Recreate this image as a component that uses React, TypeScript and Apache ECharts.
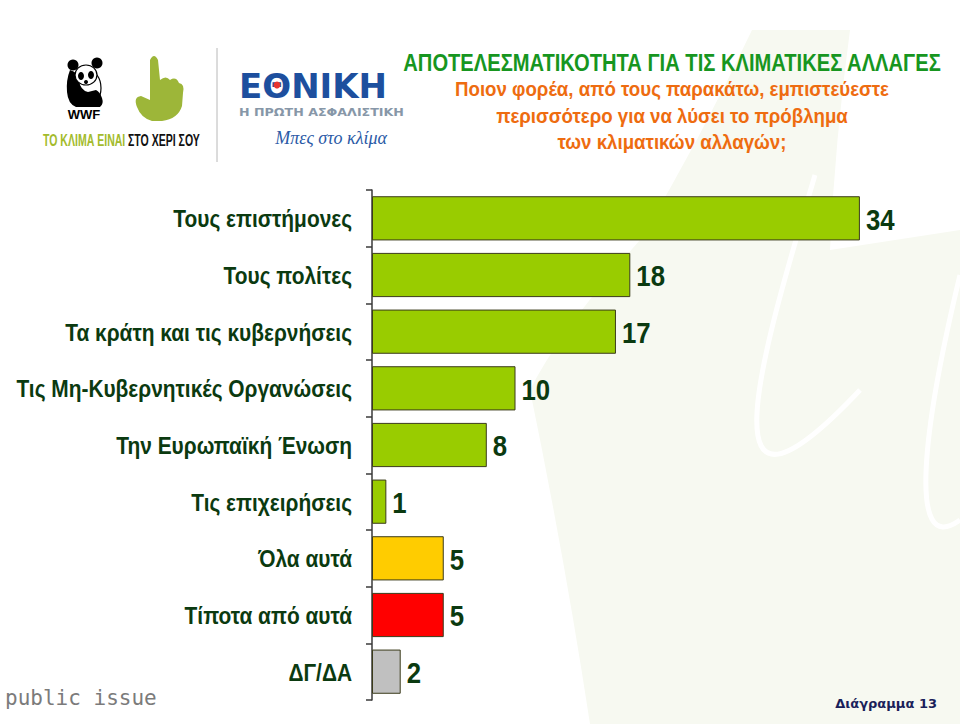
import React, { useEffect, useRef } from "react";
import * as echarts from "echarts";

const categories = [
  "Τους επιστήμονες",
  "Τους πολίτες",
  "Τα κράτη και τις κυβερνήσεις",
  "Τις Μη-Κυβερνητικές Οργανώσεις",
  "Την Ευρωπαϊκή Ένωση",
  "Τις επιχειρήσεις",
  "Όλα αυτά",
  "Τίποτα από αυτά",
  "ΔΓ/ΔΑ",
];
const values = [34, 18, 17, 10, 8, 1, 5, 5, 2];
const barColors = [
  "#99CC00", "#99CC00", "#99CC00", "#99CC00", "#99CC00", "#99CC00",
  "#FFCC00", "#FF0000", "#C0C0C0",
];

const titleText = "ΑΠΟΤΕΛΕΣΜΑΤΙΚΟΤΗΤΑ ΓΙΑ ΤΙΣ ΚΛΙΜΑΤΙΚΕΣ ΑΛΛΑΓΕΣ";
const questionLines = [
  "Ποιον φορέα, από τους παρακάτω, εμπιστεύεστε",
  "περισσότερο για να λύσει το πρόβλημα",
  "των κλιματικών αλλαγών;",
];

const SANS = '"Liberation Sans", Arial, sans-serif';
const LABEL_COLOR = "#0b3a10";

const HAND_D =
  "M150 60 Q154 52 158 60 L160 80 Q166 75 170 80 Q176 76 179 83 Q185 84 183 93 L182 106 Q178 119 162 121 L152 121 Q141 118 137 107 Q133 97 141 96 L150 100 Z";
const WATERMARK_D =
  "M752 30 L850 30 Q835 140 830 250 L960 230 L960 724 L590 724 Q565 560 530 390 Q560 330 640 240 Q700 140 752 30 Z";
const PANDA_BODY_D =
  "M70 70 Q66 80 67 92 Q68 104 76 107 L100 107 Q104 104 102 98 Q100 92 96 90 L88 92 Q80 90 79 80 Q78 72 70 70 Z";

echarts.graphic.registerShape("handLogo", echarts.graphic.extendPath(HAND_D, {}));
echarts.graphic.registerShape("watermark", echarts.graphic.extendPath(WATERMARK_D, {}));
echarts.graphic.registerShape("pandaBody", echarts.graphic.extendPath(PANDA_BODY_D, {}));

export default function App() {
  const ref = useRef<HTMLDivElement>(null);
  useEffect(() => {
    if (!ref.current) return;
    const chart = echarts.init(ref.current, null, { renderer: "svg" });
    const graphics: any[] = [
      { type: "watermark", x: 0, y: 0, z: -10, style: { fill: "#f7f9f1" }, silent: true },
      { type: "bezierCurve", z: -9, shape: { x1: 815, y1: 175, cpx1: 760, cpy1: 360, cpx2: 700, cpy2: 560, x2: 860, y2: 390 }, style: { stroke: "#ffffff", lineWidth: 5, fill: "none" }, silent: true },
      { type: "bezierCurve", z: -9, shape: { x1: 960, y1: 275, cpx1: 925, cpy1: 420, cpx2: 905, cpy2: 560, x2: 960, y2: 520 }, style: { stroke: "#ffffff", lineWidth: 5, fill: "none" }, silent: true },
      // WWF panda (simplified)
      { type: "ellipse", shape: { cx: 88, cy: 88, rx: 13, ry: 18 }, style: { fill: "#fff", stroke: "#000", lineWidth: 1.2 } },
      { type: "pandaBody", x: 0, y: 0, style: { fill: "#000" } },
      { type: "circle", shape: { cx: 73, cy: 65, r: 5.5 }, style: { fill: "#000" } },
      { type: "circle", shape: { cx: 97, cy: 63, r: 5.5 }, style: { fill: "#000" } },
      { type: "ellipse", shape: { cx: 86, cy: 75, rx: 11, ry: 10 }, style: { fill: "#fff", stroke: "#000", lineWidth: 1.2 } },
      { type: "ellipse", shape: { cx: 81, cy: 76, rx: 3, ry: 4 }, style: { fill: "#000" } },
      { type: "ellipse", shape: { cx: 91, cy: 75, rx: 3, ry: 4 }, style: { fill: "#000" } },
      { type: "circle", shape: { cx: 86, cy: 82, r: 2 }, style: { fill: "#000" } },
      {
        type: "text", x: 84, y: 114,
        style: { text: "WWF", fill: "#000", font: "900 13px " + SANS, textAlign: "center", textVerticalAlign: "middle" },
      },
      { type: "handLogo", x: 0, y: 0, style: { fill: "#9db639" } },
      {
        type: "text", x: 43, y: 140, scaleX: 0.62,
        style: { text: "ΤΟ ΚΛΙΜΑ ΕΙΝΑΙ", fill: "#a3bb2c", font: "bold 17px " + SANS, textAlign: "left", textVerticalAlign: "middle" },
      },
      {
        type: "text", x: 128, y: 140, scaleX: 0.62,
        style: { text: "ΣΤΟ ΧΕΡΙ ΣΟΥ", fill: "#111", font: "bold 17px " + SANS, textAlign: "left", textVerticalAlign: "middle" },
      },
      { type: "line", shape: { x1: 217, y1: 48, x2: 217, y2: 162 }, style: { stroke: "#b8b8b8", lineWidth: 1 } },
      {
        type: "text", x: 239, y: 86,
        style: { text: "ΕΘΝΙΚΗ", fill: "#1d4f9e", font: 'bold 34px "DejaVu Sans", sans-serif', textAlign: "left", textVerticalAlign: "middle" },
      },
      { type: "circle", shape: { cx: 277, cy: 85, r: 3.5 }, style: { fill: "#e8352e" } },
      {
        type: "text", x: 239, y: 112, scaleX: 1.15,
        style: { text: "Η ΠΡΩΤΗ ΑΣΦΑΛΙΣΤΙΚΗ", fill: "#8797a8", font: 'bold 11px "DejaVu Sans", sans-serif', textAlign: "left", textVerticalAlign: "middle" },
      },
      {
        type: "text", x: 387, y: 138,
        style: { text: "Μπες στο κλίμα", fill: "#2b5aa6", font: 'italic 18px "Liberation Serif", serif', textAlign: "right", textVerticalAlign: "middle" },
      },
      {
        type: "text", x: 672, y: 63, scaleX: 0.84,
        style: { text: titleText, fill: "#17961f", font: "bold 24px " + SANS, textAlign: "center", textVerticalAlign: "middle" },
      },
      ...questionLines.map((t, i) => ({
        type: "text", x: 672, y: 89 + i * 26.5, scaleX: 0.89,
        style: { text: t, fill: "#ee6c10", font: "bold 21px " + SANS, textAlign: "center", textVerticalAlign: "middle" },
      })),
      {
        type: "text", x: 5, y: 698,
        style: { text: "public issue", fill: "#7b7b7b", font: '21px "DejaVu Sans Mono", monospace', textAlign: "left", textVerticalAlign: "middle" },
      },
      {
        type: "text", x: 937, y: 703,
        style: { text: "Διάγραμμα 13", fill: "#1a1f5a", font: 'bold 13px "DejaVu Sans", sans-serif', textAlign: "right", textVerticalAlign: "middle" },
      },
    ];

    chart.setOption({
      animation: false,
      backgroundColor: "#ffffff",
      grid: { left: 372, top: 190, width: 574, height: 510, containLabel: false },
      xAxis: { type: "value", min: 0, max: 40, show: false },
      yAxis: {
        type: "category",
        inverse: true,
        data: categories,
        axisLine: { show: true, lineStyle: { color: "#3a3a3a", width: 1.5 } },
        axisTick: { show: true, length: 6, lineStyle: { color: "#3a3a3a", width: 1.5 } },
        axisLabel: { show: false },
        splitLine: { show: false },
      },
      series: [
        {
          type: "bar",
          barCategoryGap: "22%",
          data: values.map((v, i) => ({
            value: v,
            itemStyle: { color: barColors[i], borderColor: "#3b3b1a", borderWidth: 1 },
          })),
        },
        {
          type: "custom",
          clip: false,
          z: 5,
          data: values.map((v, i) => [v, i]),
          encode: { x: 0, y: 1 },
          renderItem: (params: any, api: any) => {
            const v = api.value(0);
            const idx = api.value(1);
            const end = api.coord([v, idx]);
            const start = api.coord([0, idx]);
            return {
              type: "group",
              children: [
                {
                  type: "text",
                  x: start[0] - 20,
                  y: start[1] + 1,
                  scaleX: 0.87,
                  style: {
                    text: categories[idx],
                    fill: LABEL_COLOR,
                    font: "bold 24px " + SANS,
                    align: "right",
                    textAlign: "right",
                    verticalAlign: "middle",
                    textVerticalAlign: "middle",
                  },
                },
                {
                  type: "text",
                  x: end[0] + 6,
                  y: end[1] + 1,
                  scaleX: 0.86,
                  style: {
                    text: String(v),
                    fill: LABEL_COLOR,
                    font: "bold 30px " + SANS,
                    align: "left",
                    textAlign: "left",
                    verticalAlign: "middle",
                    textVerticalAlign: "middle",
                  },
                },
              ],
            };
          },
        },
      ],
      graphic: graphics,
    });
    return () => chart.dispose();
  }, []);
  return <div ref={ref} style={{ position: "fixed", left: 0, top: 0, width: 960, height: 724 }} />;
}
